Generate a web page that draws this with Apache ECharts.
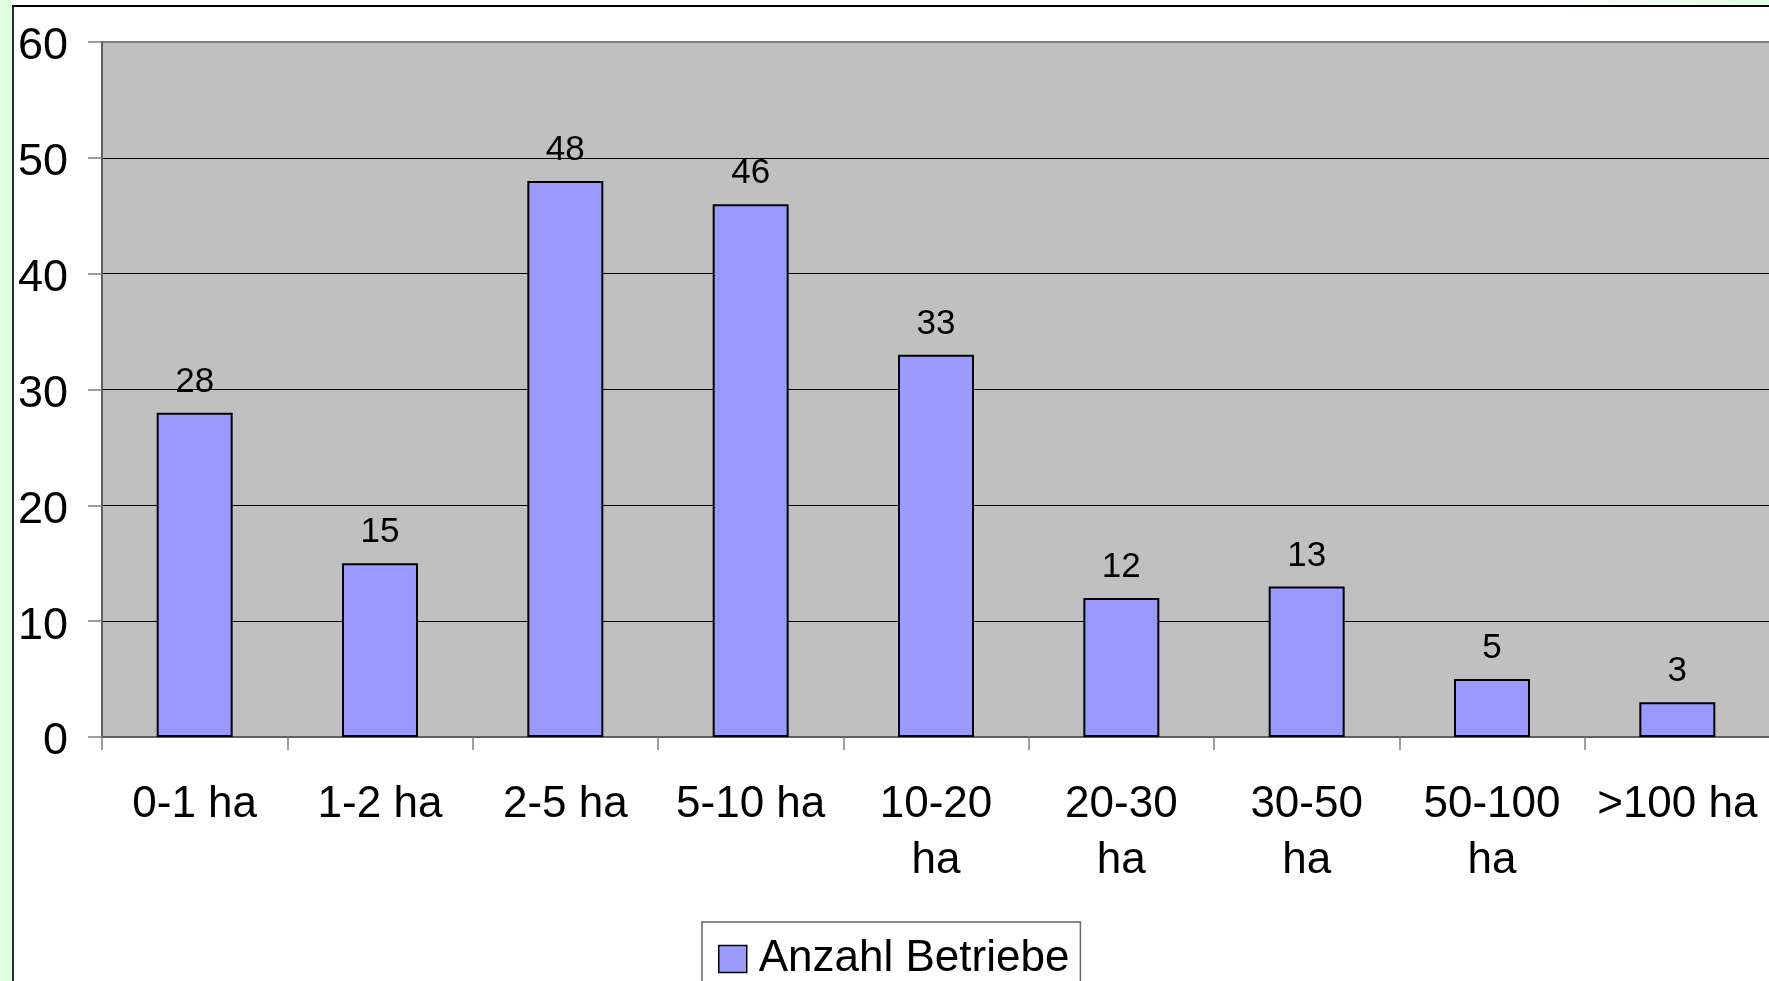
<!DOCTYPE html>
<html lang="de">
<head>
  <meta charset="utf-8">
  <style>
    html, body {
      margin: 0;
      padding: 0;
      width: 1769px;
      height: 981px;
      overflow: hidden;
      background: #fff;
    }
    #greenLeft {
      position: absolute; left: 0; top: 0; width: 12px; height: 981px;
      background: #e0ffe0;
    }
    #greenTop {
      position: absolute; left: 1540px; top: 0; width: 229px; height: 6px;
      background: linear-gradient(to right, #ffffff, #e0ffe0);
    }
    #frame {
      position: absolute; left: 12px; top: 5px; right: 0; bottom: 0;
      border-left: 2px solid #2a2a2a;
      border-top: 2px solid #000;
      background: #fff;
    }
    #container {
      position: absolute; left: 0; top: 0; width: 1769px; height: 981px;
    }
  </style>
  <title>Anzahl Betriebe</title>
</head>
<body>
  <div id="greenLeft"></div>
  <div id="greenTop"></div>
  <div id="frame"></div>
  <div id="container"></div>

  <script type="text/javascript" src="https://fastly.jsdelivr.net/npm/echarts@6.0.0/dist/echarts.min.js"></script>
  <script type="text/javascript">
    // Größenklassen und Anzahl der Betriebe
    var categories = ['0-1 ha', '1-2 ha', '2-5 ha', '5-10 ha', '10-20 ha', '20-30 ha', '30-50 ha', '50-100 ha', '>100 ha'];
    var betriebe = [28, 15, 48, 46, 33, 12, 13, 5, 3];
    var seriesName = 'Anzahl Betriebe';

    var font = "'Liberation Sans', Arial, Helvetica, sans-serif";

    var myChart = echarts.init(document.getElementById('container'));

    var option = {
      backgroundColor: 'transparent',
      animation: false,
      grid: {
        left: 102,
        top: 42,
        right: -1,
        bottom: 244,
        show: true,
        backgroundColor: '#c0c0c0',
        borderColor: '#808080',
        borderWidth: 2,
        containLabel: false,
        outerBoundsMode: 'none'
      },
      legend: {
        data: [seriesName],
        left: 702,
        top: 922,
        padding: [15, 11, 20, 16],
        backgroundColor: '#fff',
        borderColor: '#666',
        borderWidth: 1.5,
        itemWidth: 28,
        itemHeight: 27,
        icon: 'rect',
        itemStyle: { borderColor: '#000', borderWidth: 1.5 },
        textStyle: { fontFamily: font, fontSize: 44, color: '#000', padding: [0, 0, 0, 7] }
      },
      xAxis: {
        type: 'category',
        data: categories,
        boundaryGap: true,
        axisLine: { show: true, lineStyle: { color: '#555', width: 1.5 } },
        axisTick: { show: true, length: 13, alignWithLabel: false, lineStyle: { color: '#808080', width: 1.5 } },
        axisLabel: {
          fontFamily: font,
          fontSize: 44,
          color: '#000',
          lineHeight: 56,
          margin: 40,
          interval: 0,
          // lange Klassen wie in der Vorlage umbrechen
          formatter: function (v) {
            return v.length > 7 ? v.replace(' ', '\n') : v;
          }
        },
        splitLine: { show: false }
      },
      yAxis: {
        type: 'value',
        min: 0,
        max: 60,
        interval: 10,
        axisLine: { show: true, lineStyle: { color: '#555', width: 1.5 } },
        axisTick: { show: true, length: 14, lineStyle: { color: '#808080', width: 1.5 } },
        axisLabel: {
          fontFamily: font,
          fontSize: 45,
          color: '#000',
          margin: 34,
          verticalAlign: 'top',
          lineHeight: 10
        },
        splitLine: {
          show: true,
          showMinLine: false,
          showMaxLine: false,
          lineStyle: { color: '#000', width: 1 }
        }
      },
      series: [{
        name: seriesName,
        type: 'bar',
        data: betriebe,
        barWidth: '41%',
        itemStyle: {
          color: '#9999ff',
          borderColor: '#000',
          borderWidth: 2
        },
        label: {
          show: true,
          position: 'top',
          distance: 13,
          fontFamily: font,
          fontSize: 35,
          color: '#000'
        }
      }]
    };

    myChart.setOption(option);
  </script>
</body>
</html>
